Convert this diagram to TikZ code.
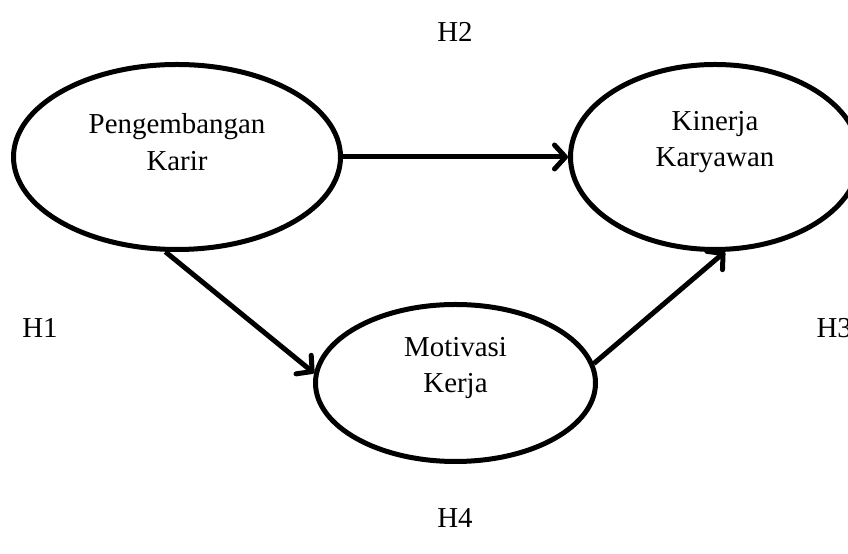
\documentclass[tikz,border=0pt]{standalone}
\usepackage{fontspec}
\setmainfont{Liberation Serif}
\usetikzlibrary{shapes.geometric,arrows.meta}
\begin{document}
\begin{tikzpicture}[x=1bp,y=1bp,
    var/.style={draw, ellipse, line width=5bp, inner sep=0pt},
    txt/.style={align=center, font=\fontsize{29}{37}\selectfont},
    path/.style={line width=5bp, -{Straight Barb[length=11bp,width=24bp,line cap=round,line join=round]}}]
      \useasboundingbox (0,0) rectangle (848,554);

      \node[var, minimum width=327bp, minimum height=185bp] (pk) at (177,397) {};
      \node[var, minimum width=289bp, minimum height=185bp] (kk) at (715,397) {};
      \node[var, minimum width=280bp, minimum height=157bp] (mk) at (455.5,171) {};

	\node[txt] (pkt) at ([yshift=15]pk.center) {Pengembangan\\Karir};
	\node[txt] (kkt) at ([yshift=15]kk.center) {Kinerja\\Karyawan};
	\node[txt] (mkt) at ([yshift=15]mk.center) {Motivasi\\Kerja};

      \draw[path] (pk.east) -- (kk.west);
      \draw[path] (pk.-97) -- (mk.176);
      \draw[path] (mk.8) -- (kk.-84);

	\node[txt] (h1) at (40,226) {H1};
	\node[txt] (h2) at (455,522) {H2};
	\node[txt, anchor=west] (h3) at (813,226) {H3};
	\node[txt] (h4) at (455,36) {H4};
    \end{tikzpicture}
\end{document}
